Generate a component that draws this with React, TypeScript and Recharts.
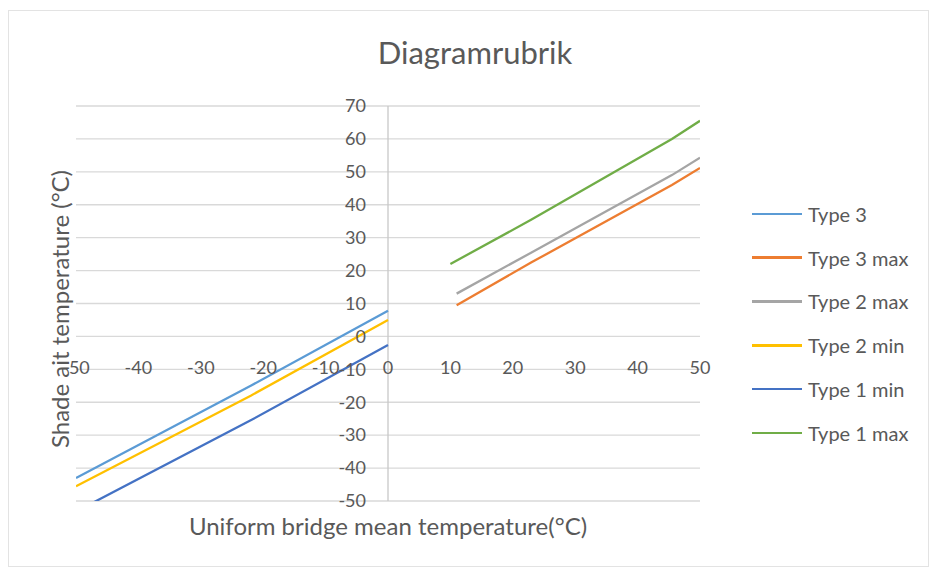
import React from 'react'
import { LineChart, Line, XAxis, YAxis, CartesianGrid, ReferenceLine, Legend } from 'recharts'

// series order as in the legend
const seriesNames = ['Type 3', 'Type 3 max', 'Type 2 max', 'Type 2 min', 'Type 1 min', 'Type 1 max']
const seriesColors = ['#5B9BD5', '#ED7D31', '#A5A5A5', '#FFC000', '#4472C4', '#70AD47']

// left branch (negative bridge temps)
const leftX = [-50, -22, 0]
const type3Y = [-43, -15, 7.8]
const type2MinY = [-45.5, -18, 5]
const type1MinY = [-53.2, -25.5, -2.6]

// right branch (positive bridge temps)
const type1MaxX = [10, 23, 45.5, 50]
const type1MaxY = [22, 35.5, 60, 65.5]
const type23MaxX = [11, 23, 45.5, 50]
const type2MaxY = [13, 25.5, 49, 54.3]
const type3MaxY = [9.5, 22.5, 46, 51.2]

const xTicks = [-50, -40, -30, -20, -10, 0, 10, 20, 30, 40, 50]
const yTicks = [-50, -40, -30, -20, -10, 0, 10, 20, 30, 40, 50, 60, 70]

const zip = (xs: number[], ys: number[]) => xs.map((x, i) => ({ x, y: ys[i] }))
const seriesData = [
  zip(leftX, type3Y),
  zip(type23MaxX, type3MaxY),
  zip(type23MaxX, type2MaxY),
  zip(leftX, type2MinY),
  zip(leftX, type1MinY),
  zip(type1MaxX, type1MaxY),
]

const W = 930
const H = 568
const Y_AXIS_W = 40
const X_AXIS_H = 30
const M = { top: 106, left: 76 - Y_AXIS_W, right: 230, bottom: 67 - X_AXIS_H }
const PLOT_W = W - 76 - M.right
const PLOT_H = H - M.top - 67
const ZERO_Y = M.top + PLOT_H * 70 / 120
const ZERO_X = 76 + PLOT_W * 50 / 100

const FONT = 'Lato, "Open Sans", sans-serif'
const TXT = '#595959'

const XTick = (p: any) => (
  <text x={p.x} y={ZERO_Y + 31} dy="0.35em" textAnchor="middle" fill={TXT} fontSize={18} fontFamily={FONT}>
    {p.payload.value}
  </text>
)

const YTick = (p: any) => (
  <text x={ZERO_X - 22} y={p.y} dy="0.35em" textAnchor="end" fill={TXT} fontSize={18} fontFamily={FONT}>
    {p.payload.value}
  </text>
)

const LegendBox = (props: any) => {
  const items = [...(props.payload || [])].sort(
    (a: any, b: any) => seriesNames.indexOf(a.value) - seriesNames.indexOf(b.value)
  )
  return (
    <div>
      {items.map((it: any) => (
        <div key={it.value} style={{ height: 43.8, display: 'flex', alignItems: 'center' }}>
          <div style={{ width: 50, height: 2.5, background: it.color, marginRight: 6 }} />
          <span style={{ fontSize: 20, color: TXT, fontFamily: FONT, whiteSpace: 'nowrap' }}>{it.value}</span>
        </div>
      ))}
    </div>
  )
}

export default function App() {
  return (
    <div style={{ position: 'absolute', left: 0, top: 0, width: W, height: H, background: '#fff', fontFamily: FONT }}>
      <div style={{ position: 'absolute', left: 8, top: 10, width: 919, height: 555, border: '1px solid #e3e3e3' }} />
      <div style={{ position: 'absolute', left: 475, top: 52, transform: 'translate(-50%, -50%)', fontSize: 31, color: TXT, whiteSpace: 'nowrap' }}>
        Diagramrubrik
      </div>
      <div style={{ position: 'absolute', left: 59, top: 309, transform: 'translate(-50%, -50%) rotate(-90deg)', fontSize: 24, color: TXT, whiteSpace: 'nowrap' }}>
        Shade ait temperature (°C)
      </div>
      <div style={{ position: 'absolute', left: 388, top: 525, transform: 'translate(-50%, -50%)', fontSize: 24, color: TXT, whiteSpace: 'nowrap' }}>
        Uniform bridge mean temperature(°C)
      </div>
      <div style={{ position: 'absolute', left: 0, top: 0 }}>
        <LineChart width={W} height={H} margin={M}>
          <CartesianGrid vertical={false} stroke="#d9d9d9" strokeWidth={1.3} />
          <XAxis type="number" dataKey="x" domain={[-50, 50]} ticks={xTicks} interval={0} height={X_AXIS_H}
            axisLine={false} tickLine={false} tick={XTick} allowDataOverflow />
          <YAxis type="number" domain={[-50, 70]} ticks={yTicks} interval={0} width={Y_AXIS_W}
            axisLine={false} tickLine={false} tick={YTick} allowDataOverflow />
          <ReferenceLine x={0} stroke="#c8c8c8" strokeWidth={1.3} />
          {seriesNames.map((name, i) => (
            <Line key={name} data={seriesData[i]} dataKey="y" name={name} type="linear"
              stroke={seriesColors[i]} strokeWidth={2.3} dot={false} activeDot={false} isAnimationActive={false} />
          ))}
          <Legend layout="vertical" align="center" verticalAlign="middle" content={LegendBox}
            wrapperStyle={{ left: 752, top: 192, width: 175 }} />
        </LineChart>
      </div>
    </div>
  )
}
